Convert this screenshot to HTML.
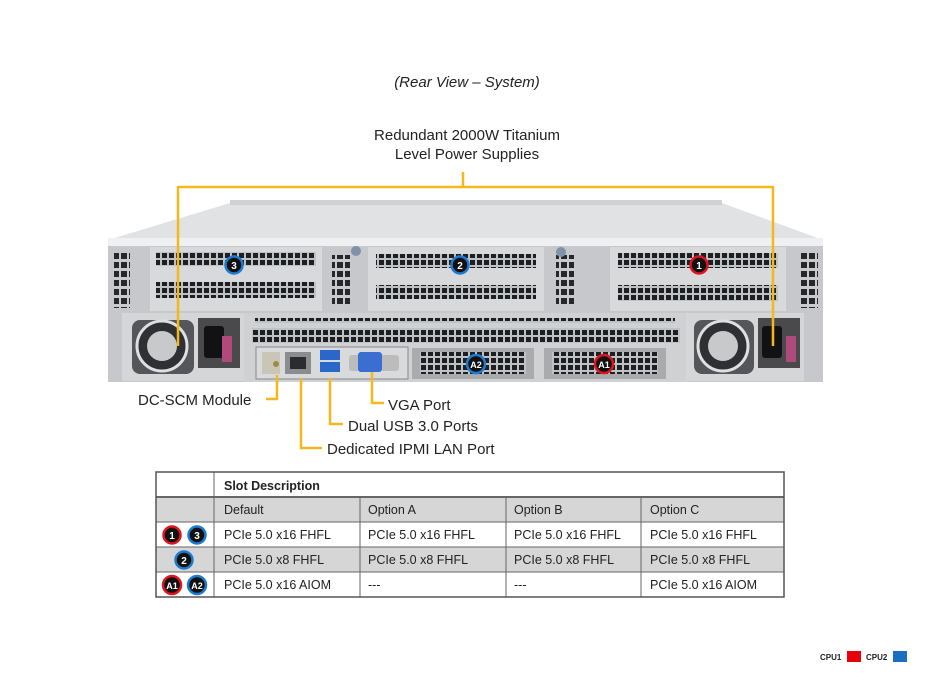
<!DOCTYPE html>
<html><head><meta charset="utf-8"><style>
body{margin:0;background:#fff;width:933px;height:700px;overflow:hidden;font-family:"Liberation Sans",Arial,sans-serif}
svg{position:absolute;left:0;top:0}
</style></head><body>
<svg width="933" height="700" viewBox="0 0 933 700" xmlns="http://www.w3.org/2000/svg" font-family="Liberation Sans, Arial, sans-serif">
<defs>
<pattern id="g" x="0" y="0" width="7" height="7" patternUnits="userSpaceOnUse"><rect width="7" height="7" fill="#bfc2c4"/><rect x="1" y="1" width="5" height="5" fill="#1d1f22"/></pattern>
<pattern id="gv" x="0" y="0" width="8" height="9" patternUnits="userSpaceOnUse"><rect width="8" height="9" fill="#c8cacc"/><rect x="1" y="1" width="6" height="6" fill="#25272a"/></pattern>
</defs>
<text x="467" y="87" font-size="15" font-style="italic" text-anchor="middle" fill="#222">(Rear View – System)</text>
<text x="467" y="140" font-size="15" text-anchor="middle" fill="#222">Redundant  2000W Titanium</text>
<text x="467" y="159" font-size="15" text-anchor="middle" fill="#222">Level Power Supplies</text>

<polygon points="230,203 722,203 823,240 108,240" fill="#e1e2e4"/>
<rect x="230" y="200" width="492" height="5" fill="#cfd1d3"/>
<rect x="108" y="238" width="715" height="9" fill="#eef0f1"/>
<rect x="108" y="246" width="715" height="136" fill="#c6c8cb"/>
<rect x="114" y="252" width="16" height="56" fill="url(#gv)"/>
<rect x="800" y="252" width="18" height="56" fill="url(#gv)"/>
<rect x="332" y="255" width="18" height="50" fill="url(#gv)"/>
<rect x="556" y="255" width="18" height="50" fill="url(#gv)"/>
<rect x="150" y="247" width="172" height="64" fill="#d7d9db"/>
<rect x="156" y="252" width="160" height="14" fill="url(#g)"/>
<rect x="156" y="282" width="160" height="16" fill="url(#g)"/>
<rect x="368" y="247" width="176" height="64" fill="#d7d9db"/>
<rect x="376" y="254" width="160" height="14" fill="url(#g)"/>
<rect x="376" y="285" width="160" height="14" fill="url(#g)"/>
<rect x="610" y="247" width="176" height="64" fill="#d7d9db"/>
<rect x="618" y="253" width="160" height="15" fill="url(#g)"/>
<rect x="618" y="285" width="160" height="16" fill="url(#g)"/>
<circle cx="356" cy="251" r="5" fill="#7f93a8"/><circle cx="561" cy="252" r="5" fill="#7f93a8"/>
<rect x="244" y="313" width="444" height="69" fill="#cfd1d3"/>
<rect x="255" y="318" width="420" height="5" fill="url(#g)"/>
<rect x="252" y="328" width="428" height="15" fill="url(#g)"/>
<rect x="256" y="347" width="152" height="32" fill="#d9dadc" stroke="#888" stroke-width="1"/>
<rect x="262" y="352" width="18" height="22" fill="#c9c6b8"/>
<circle cx="276" cy="364" r="3" fill="#a08a40"/>
<rect x="285" y="352" width="26" height="22" fill="#8a8c8f"/><rect x="290" y="357" width="16" height="12" fill="#2a2c2e"/>
<rect x="320" y="350" width="20" height="10" fill="#2b66c9"/><rect x="320" y="362" width="20" height="10" fill="#2b66c9"/>
<rect x="349" y="355" width="50" height="16" rx="3" fill="#bcbcbc"/><rect x="358" y="352" width="24" height="20" rx="3" fill="#3a6fd1"/>
<rect x="412" y="348" width="122" height="31" fill="#a9abad"/><rect x="420" y="352" width="106" height="22" fill="url(#g)"/>
<rect x="544" y="348" width="122" height="31" fill="#a9abad"/><rect x="552" y="352" width="106" height="22" fill="url(#g)"/>
<rect x="122" y="313" width="122" height="68" fill="#d5d6d8"/>
<rect x="132" y="320" width="62" height="54" rx="8" fill="#55565a"/>
<circle cx="162" cy="346" r="25" fill="#2f3033" stroke="#dedfe0" stroke-width="3"/>
<circle cx="162" cy="346" r="15" fill="#c8c9cb"/>
<rect x="198" y="318" width="42" height="50" fill="#4a4a4c"/><rect x="204" y="326" width="20" height="32" rx="3" fill="#121214"/>
<rect x="222" y="336" width="10" height="26" fill="#b04a7a"/>
<rect x="686" y="313" width="118" height="68" fill="#d5d6d8"/>
<rect x="694" y="320" width="60" height="54" rx="8" fill="#55565a"/>
<circle cx="723" cy="346" r="25" fill="#2f3033" stroke="#dedfe0" stroke-width="3"/>
<circle cx="723" cy="346" r="15" fill="#c8c9cb"/>
<rect x="758" y="318" width="42" height="50" fill="#4a4a4c"/><rect x="762" y="326" width="20" height="32" rx="3" fill="#121214"/>
<rect x="786" y="336" width="10" height="26" fill="#b04a7a"/>
<g font-size="10" font-weight="bold" fill="#fff" text-anchor="middle">
<circle cx="234" cy="265" r="8.5" fill="#111" stroke="#1e7bd0" stroke-width="2.5"/><text x="234" y="269">3</text>
<circle cx="460" cy="265" r="8.5" fill="#111" stroke="#1e7bd0" stroke-width="2.5"/><text x="460" y="269">2</text>
<circle cx="699" cy="265" r="8.5" fill="#111" stroke="#e0141e" stroke-width="2.5"/><text x="699" y="269">1</text>
<circle cx="476" cy="364" r="9" fill="#111" stroke="#1e7bd0" stroke-width="2.5"/><text x="476" y="368" font-size="9">A2</text>
<circle cx="604" cy="364" r="9" fill="#111" stroke="#e0141e" stroke-width="2.5"/><text x="604" y="368" font-size="9">A1</text>
</g>
<g stroke="#f2b81c" stroke-width="2.5" fill="none">
<path d="M463 172V187M178 187H773M178 186V346M773 186V346"/>
<path d="M277 375V399H266"/>
<path d="M301 378V448H322"/>
<path d="M330 378V424H343"/>
<path d="M372 372V403H384"/>
</g>
<g font-size="15" fill="#222">
<text x="138" y="405">DC-SCM Module</text>
<text x="388" y="410">VGA Port</text>
<text x="348" y="431">Dual USB 3.0 Ports</text>
<text x="327" y="454">Dedicated IPMI  LAN Port</text>
</g>
<g>
<rect x="156" y="472" width="628" height="125" fill="#fff" stroke="#555"/>
<rect x="156" y="497" width="628" height="25" fill="#d6d6d6"/>
<rect x="156" y="547" width="628" height="25" fill="#d6d6d6"/>
<g stroke="#666" stroke-width="1">
<line x1="156" y1="497" x2="784" y2="497" stroke-width="2"/>
<line x1="156" y1="522" x2="784" y2="522"/>
<line x1="156" y1="547" x2="784" y2="547"/>
<line x1="156" y1="572" x2="784" y2="572"/>
<line x1="214" y1="472" x2="214" y2="597"/>
<line x1="360" y1="497" x2="360" y2="597"/>
<line x1="506" y1="497" x2="506" y2="597"/>
<line x1="641" y1="497" x2="641" y2="597"/>
<rect x="156" y="472" width="628" height="125" fill="none" stroke="#555" stroke-width="1.5"/>
</g>
<g font-size="12.5" fill="#222">
<text x="224" y="490" font-weight="bold">Slot Description</text>
<text x="224" y="514">Default</text><text x="368" y="514">Option A</text><text x="514" y="514">Option B</text><text x="650" y="514">Option C</text>
<text x="224" y="539">PCIe 5.0 x16 FHFL</text><text x="368" y="539">PCIe 5.0 x16 FHFL</text><text x="514" y="539">PCIe 5.0 x16 FHFL</text><text x="650" y="539">PCIe 5.0 x16 FHFL</text>
<text x="224" y="564">PCIe 5.0 x8 FHFL</text><text x="368" y="564">PCIe 5.0 x8 FHFL</text><text x="514" y="564">PCIe 5.0 x8 FHFL</text><text x="650" y="564">PCIe 5.0 x8 FHFL</text>
<text x="224" y="589">PCIe 5.0 x16 AIOM</text><text x="368" y="589">---</text><text x="514" y="589">---</text><text x="650" y="589">PCIe 5.0 x16 AIOM</text>
</g>
<g font-size="10" font-weight="bold" fill="#fff" text-anchor="middle">
<circle cx="172" cy="535" r="8.5" fill="#111" stroke="#e0141e" stroke-width="2.5"/><text x="172" y="539">1</text>
<circle cx="197" cy="535" r="8.5" fill="#111" stroke="#1e7bd0" stroke-width="2.5"/><text x="197" y="539">3</text>
<circle cx="184" cy="560" r="8.5" fill="#111" stroke="#1e7bd0" stroke-width="2.5"/><text x="184" y="564">2</text>
<circle cx="172" cy="585" r="9" fill="#111" stroke="#e0141e" stroke-width="2.5"/><text x="172" y="589" font-size="9">A1</text>
<circle cx="197" cy="585" r="9" fill="#111" stroke="#1e7bd0" stroke-width="2.5"/><text x="197" y="589" font-size="9">A2</text>
</g>
</g>
<g font-size="8" font-weight="bold" fill="#222">
<text x="820" y="660">CPU1</text><rect x="847" y="651" width="14" height="11" fill="#e8000b"/>
<text x="866" y="660">CPU2</text><rect x="893" y="651" width="14" height="11" fill="#1b6fc2"/>
</g>
</svg>
</body></html>
